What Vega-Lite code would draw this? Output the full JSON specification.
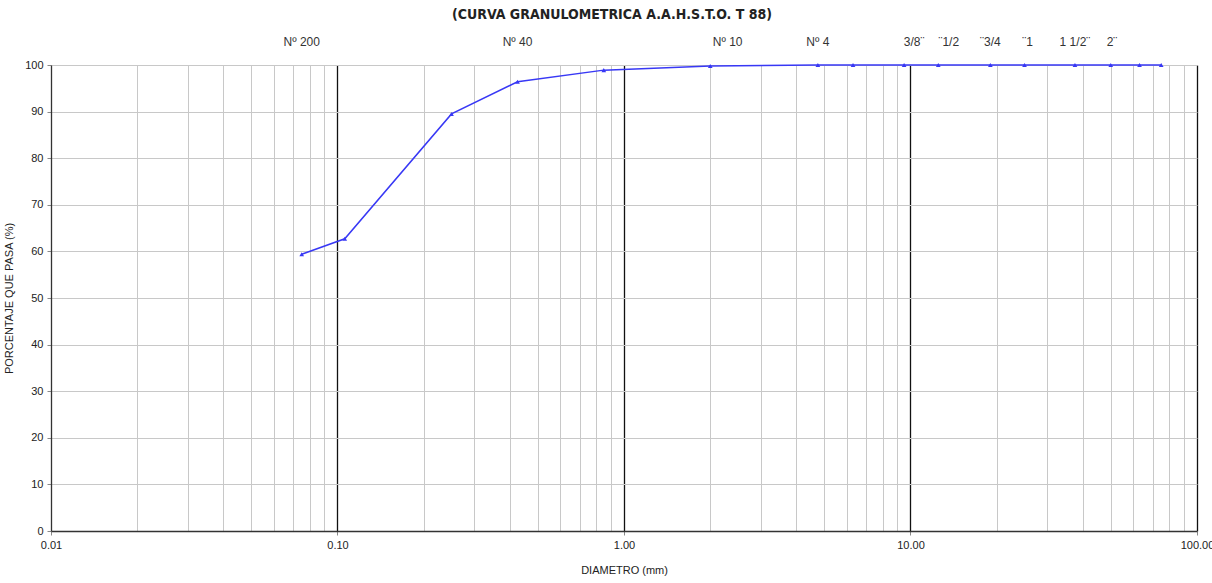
{
  "$schema": "https://vega.github.io/schema/vega-lite/v6.json",
  "width": 1146,
  "height": 466,
  "autosize": {"type": "none"},
  "padding": {"left": 51, "top": 65, "right": 15, "bottom": 52},
  "background": "white",
  "config": {
    "font": "Liberation Sans Narrow, Liberation Sans, Arial, sans-serif",
    "view": {"stroke": null}
  },
  "title": {
    "text": "(CURVA GRANULOMETRICA A.A.H.S.T.O. T 88)",
    "font": "DejaVu Sans Condensed, Liberation Sans, sans-serif",
    "fontSize": 14,
    "fontWeight": "bold",
    "color": "#222222",
    "anchor": "middle",
    "offset": 14,
    "dx": -12
  },
  "layer": [
    {
      "data": {
        "values": [
          {"d": 75, "p": 100},
          {"d": 63, "p": 100},
          {"d": 50, "p": 100},
          {"d": 37.5, "p": 100},
          {"d": 25, "p": 100},
          {"d": 19, "p": 100},
          {"d": 12.5, "p": 100},
          {"d": 9.5, "p": 100},
          {"d": 6.3, "p": 100},
          {"d": 4.75, "p": 100},
          {"d": 2.0, "p": 99.8},
          {"d": 0.85, "p": 98.9},
          {"d": 0.425, "p": 96.4},
          {"d": 0.25, "p": 89.5},
          {"d": 0.106, "p": 62.7},
          {"d": 0.075, "p": 59.4}
        ]
      },
      "mark": {"type": "line", "color": "#3838f5", "strokeWidth": 1.5, "point": {"shape": "triangle-up", "size": 22, "color": "#3838f5", "filled": true}},
      "encoding": {
        "x": {
          "field": "d", "type": "quantitative",
          "scale": {"type": "log", "domain": [0.01, 100], "nice": false},
          "axis": {
            "title": "DIAMETRO (mm)",
            "titleFontSize": 11,
            "titleFontWeight": "normal",
            "titleColor": "#222222",
            "titlePadding": 14,
            "values": [0.01,0.02,0.03,0.04,0.05,0.06,0.07,0.08,0.09,0.1,0.2,0.3,0.4,0.5,0.6,0.7,0.8,0.9,1,2,3,4,5,6,7,8,9,10,20,30,40,50,60,70,80,90,100],
            "labelExpr": "(datum.value == 0.01 || datum.value == 0.1 || datum.value == 1 || datum.value == 10 || datum.value == 100) ? format(datum.value, '.2f') : ''",
            "labelFontSize": 11,
            "labelColor": "#222222",
            "labelPadding": 4,
            "labelFlush": false,
            "labelOverlap": false,
            "grid": true,
            "gridColor": {"condition": {"test": "datum.value == 0.1 || datum.value == 1 || datum.value == 10 || datum.value == 100", "value": "#111111"}, "value": "#c8c8c8"},
            "gridWidth": {"condition": {"test": "datum.value == 0.1 || datum.value == 1 || datum.value == 10 || datum.value == 100", "value": 1.3}, "value": 1},
            "ticks": true,
            "tickSize": 4,
            "tickColor": {"condition": {"test": "datum.value == 0.01 || datum.value == 0.1 || datum.value == 1 || datum.value == 10 || datum.value == 100", "value": "#888888"}, "value": "transparent"},
            "domainColor": "#333333",
            "domainWidth": 1.3
          }
        },
        "y": {
          "field": "p", "type": "quantitative",
          "scale": {"domain": [0, 100], "nice": false},
          "axis": {
            "title": "PORCENTAJE QUE PASA (%)",
            "titleFontSize": 11,
            "titleFontWeight": "normal",
            "titleColor": "#222222",
            "titlePadding": 10,
            "values": [0,10,20,30,40,50,60,70,80,90,100],
            "labelFontSize": 11,
            "labelColor": "#222222",
            "labelPadding": 4,
            "tickSize": 4,
            "tickColor": "#888888",
            "grid": true,
            "gridColor": "#c8c8c8",
            "domainColor": "#333333",
            "domainWidth": 1.3
          }
        }
      }
    },
    {
      "data": {
        "values": [
          {"d": 0.075, "t": "Nº 200"},
          {"d": 0.425, "t": "Nº 40"},
          {"d": 2.3, "t": "Nº 10"},
          {"d": 4.75, "t": "Nº 4"},
          {"d": 10.3, "t": "3/8¨"},
          {"d": 13.6, "t": "¨1/2"},
          {"d": 19, "t": "¨3/4"},
          {"d": 25.6, "t": "¨1"},
          {"d": 37.5, "t": "1 1/2¨"},
          {"d": 50.5, "t": "2¨"}
        ]
      },
      "mark": {"type": "text", "fontSize": 12, "color": "#333333", "align": "center", "baseline": "middle"},
      "encoding": {
        "x": {"field": "d", "type": "quantitative"},
        "y": {"datum": 105},
        "text": {"field": "t"}
      }
    }
  ]
}
